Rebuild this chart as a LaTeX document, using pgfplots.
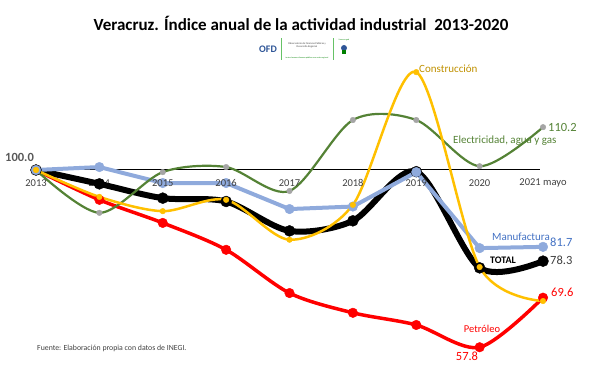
\documentclass[border=0pt]{standalone}
\usepackage{pgfplots}
\pgfplotsset{compat=1.18}
\usepackage{fontspec}
\setmainfont{Carlito}
\definecolor{cyel}{HTML}{FFC000}
\definecolor{cblue}{HTML}{8FAADC}
\definecolor{cgreen}{HTML}{548235}
\definecolor{cgray}{HTML}{A5A5A5}
\definecolor{cgold}{HTML}{BF9000}
\definecolor{cdblue}{HTML}{4472C4}
\definecolor{ctxt}{HTML}{404040}
\definecolor{cofd}{HTML}{2E5597}
\definecolor{cgray2}{HTML}{595959}
\tikzset{ticklab/.style={font=\fontsize{10.5}{12}\selectfont, text=ctxt, inner sep=0pt}}
\begin{document}
\begin{tikzpicture}[x=1pt,y=1pt]
\begin{axis}[
  at={(0,0)}, anchor=south west,
  scale only axis, width=600pt, height=380pt,
  xmin=-0.568, xmax=8.899, ymin=50, ymax=140.476,
  hide axis, clip=false,
]
\node[ticklab, yshift=-13pt] at (axis cs:1,100) {2014};
\addplot[black, line width=1pt, forget plot] coordinates {(0,100) (7.95,100)};
% Petroleo
\addplot[red, line width=3.5pt, smooth, mark=*, mark size=4.8pt, mark options={fill=red, draw=red, line width=0.4pt}]
  coordinates {(0,100) (1,92.9) (2,87.4) (3,81.0) (4,70.7) (5,66.0) (6,63.1) (7,57.8) (8,69.6)};
% TOTAL
\addplot[black, line width=6pt, smooth, mark=*, mark size=5.5pt, mark options={fill=black, draw=black, line width=0.4pt}]
  coordinates {(0,100) (1,96.7) (2,93.3) (3,92.5) (4,85.5) (5,87.9) (6,99.6) (7,76.7) (8,78.3)};
% Manufactura
\addplot[cblue, line width=4pt, mark=*, mark size=4.8pt, mark options={fill=cblue, draw=cblue, line width=0.4pt}]
  coordinates {(0,100) (1,100.7) (2,96.9) (3,96.9) (4,90.7) (5,91.3) (6,99.5) (7,81.4) (8,81.7)};
% Electricidad
\addplot[cgreen, line width=2.2pt, smooth, mark=*, mark size=2.8pt, mark options={fill=cgray, draw=cgray, line width=0.4pt}]
  coordinates {(0,100) (1,89.8) (2,99.5) (3,100.7) (4,95.0) (5,111.9) (6,111.9) (7,100.9) (8,110.2)};
% Construccion
\addplot[cyel, line width=2.5pt, smooth, mark=*, mark size=2.8pt, mark options={fill=cyel, draw=cyel, line width=0.4pt}]
  coordinates {(0,100) (1,93.6) (2,90.2) (3,92.9) (4,83.4) (5,91.7) (6,123.3) (7,76.9) (8,68.8)};
\end{axis}
% tick labels drawn over the lines
\node[ticklab] at (36,197) {2013};
\node[ticklab] at (162.75,197) {2015};
\node[ticklab] at (226.1,197) {2016};
\node[ticklab] at (289.5,197) {2017};
\node[ticklab] at (352.9,197) {2018};
\node[ticklab] at (416.25,197) {2019};
\node[ticklab] at (479.6,197) {2020};
\node[ticklab] at (543,197) {2021 mayo};
% title and logo
\node[font=\fontsize{17}{20}\bfseries\selectfont, text=black] at (301,357) {Veracruz. Índice anual de la actividad industrial\ \ 2013-2020};
\node[font=\fontsize{10}{12}\bfseries\selectfont, text=cofd, inner sep=0pt] at (268,331) {OFD};
\draw[green!60!black!60, line width=0.4pt] (281,320) -- (281,342);
\draw[green!60!black!60, line width=0.4pt] (333,320) -- (333,342);
\node[font=\fontsize{2.6}{3}\selectfont, text=ctxt, align=center, inner sep=0pt] at (307,335) {Observatorio de Finanzas Públicas y\\ Desarrollo Regional};
\node[font=\fontsize{2}{2.4}\selectfont, text=green!50!black, inner sep=0pt] at (307,322.5) {Juntos hacemos finanzas públicas con orden regional};
\node[font=\fontsize{2}{2.4}\selectfont, text=green!50!black, inner sep=0pt] at (344,340) {Veracruz gob};
\fill[cofd] (344,332) circle (3pt);
\fill[green!50!black] (342,326) rectangle (346,330);
% labels
\node[font=\fontsize{12.5}{14}\bfseries\selectfont, text=cgray2, inner sep=0pt, anchor=west] at (5,223) {100.0};
\node[font=\fontsize{11}{13}\selectfont, text=cgold, inner sep=0pt, anchor=west] at (419,311) {Construcción};
\node[font=\fontsize{11}{13}\selectfont, text=cgreen, inner sep=0pt, anchor=west] at (453,239) {Electricidad, agua y gas};
\node[font=\fontsize{12.5}{14}\selectfont, text=cgreen, inner sep=0pt, anchor=west] at (548,253) {110.2};
\node[font=\fontsize{11}{13}\selectfont, text=cdblue, inner sep=0pt] at (521,143) {Manufactura};
\node[font=\fontsize{12.5}{14}\selectfont, text=cdblue, inner sep=0pt, anchor=west] at (550,138) {81.7};
\node[font=\fontsize{10}{12}\bfseries\selectfont, text=black, inner sep=0pt, anchor=west] at (490,120) {TOTAL};
\node[font=\fontsize{12.5}{14}\selectfont, text=ctxt, inner sep=0pt, anchor=west] at (550,120) {78.3};
\node[font=\fontsize{12.5}{14}\selectfont, text=red, inner sep=0pt, anchor=west] at (551,88) {69.6};
\node[font=\fontsize{10.5}{12}\selectfont, text=red, inner sep=0pt] at (482,51) {Petróleo};
\node[font=\fontsize{12.5}{14}\selectfont, text=red, inner sep=0pt] at (467,24) {57.8};
\node[font=\fontsize{7.8}{9}\selectfont, text=ctxt, inner sep=0pt, anchor=west] at (37,32) {Fuente: Elaboración propia con datos de INEGI.};
\path (0,0) rectangle (600,380);
\end{tikzpicture}
\end{document}
